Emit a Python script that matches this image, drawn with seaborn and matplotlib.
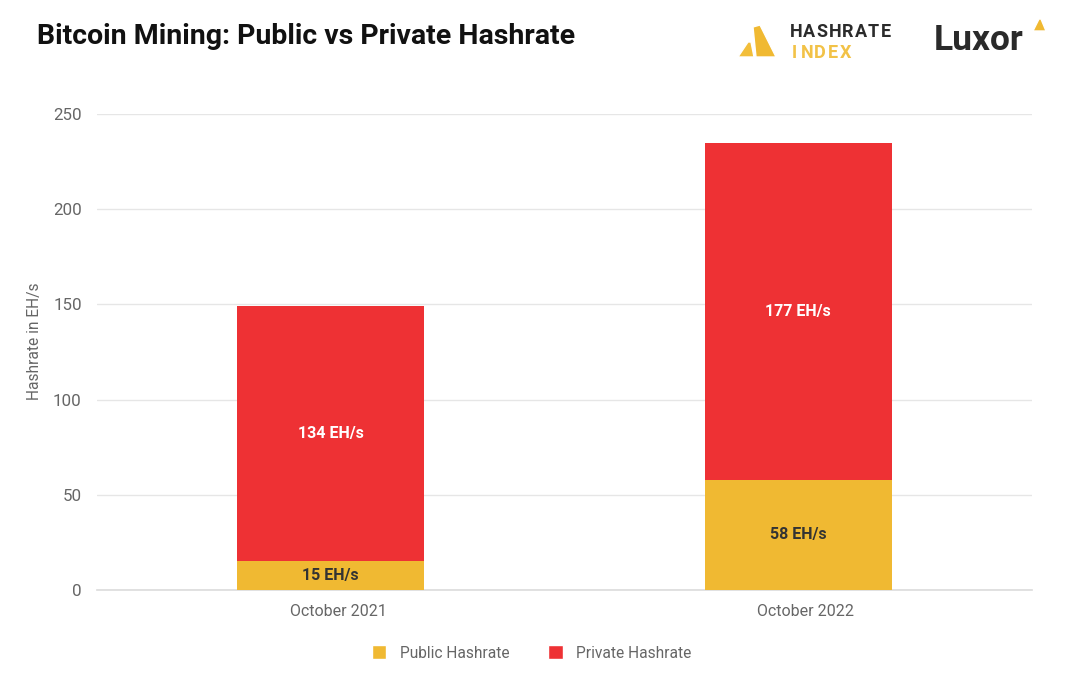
import pandas as pd
import matplotlib.pyplot as plt
import matplotlib.transforms as mtransforms
import seaborn as sns
from matplotlib.patches import Patch, Polygon

# ── Data ──────────────────────────────────────────────────────────────────
periods = ['October 2021', 'October 2022']
public_hashrate = [15, 58]
private_hashrate = [134, 177]

YELLOW = '#F0B932'
RED = '#EE3134'
GREY = '#666666'

df = pd.DataFrame({
    'period': periods,
    'public': public_hashrate,
    'private': private_hashrate,
})
df['total'] = df['public'] + df['private']

sns.set_theme(style='white')
plt.rcParams['font.family'] = ['Roboto', 'DejaVu Sans']

fig = plt.figure(figsize=(10.8, 6.75), dpi=100)
ax = fig.add_axes([97 / 1080, 1 - 590 / 675, 935 / 1080, 476 / 675])

# stacked bars: total in red, public drawn over it in yellow
sns.barplot(data=df, x='period', y='total', color=RED, width=0.4,
            saturation=1, linewidth=0, ax=ax, zorder=2)
sns.barplot(data=df, x='period', y='public', color=YELLOW, width=0.4,
            saturation=1, linewidth=0, ax=ax, zorder=3)

for i, row in df.iterrows():
    ax.text(i, row['public'] / 2, f"{row['public']} EH/s", ha='center',
            va='center', fontsize=11.5, fontweight='bold', color='#333333',
            zorder=4)
    ax.text(i, row['public'] + row['private'] / 2, f"{row['private']} EH/s",
            ha='center', va='center', fontsize=11.5, fontweight='bold',
            color='white', zorder=4)

ax.set_ylim(0, 250)
ax.set_yticks(range(0, 251, 50))
ax.set_xlim(-0.5, 1.5)
ax.yaxis.grid(True, color='#E6E6E6', linewidth=1)
ax.set_axisbelow(True)
for side in ['top', 'right', 'left']:
    ax.spines[side].set_visible(False)
ax.spines['bottom'].set_color('#DDDDDD')
ax.spines['bottom'].set_zorder(1)

ax.set_xlabel('')
ax.set_ylabel('Hashrate in EH/s', fontsize=11.2, color=GREY, labelpad=8)
ax.yaxis.label.set_y((590 - 341) / 476)
ax.tick_params(axis='y', length=0, labelsize=12.2, labelcolor=GREY, pad=11)
ax.tick_params(axis='x', which='major', length=0, labelsize=11.5,
               labelcolor=GREY, pad=10)
ax.set_xticks([-0.5, 0.5, 1.5], minor=True)
ax.tick_params(axis='x', which='minor', length=6, color='#DDDDDD', width=1)
shift = mtransforms.ScaledTranslation(7.5 / 100, 0, fig.dpi_scale_trans)
for lab in ax.get_xticklabels():
    lab.set_transform(lab.get_transform() + shift)

handles = [Patch(facecolor=YELLOW, label='Public Hashrate'),
           Patch(facecolor=RED, label='Private Hashrate')]
fig.legend(handles=handles, loc='center',
           bbox_to_anchor=(531.5 / 1080, 1 - 653 / 675),
           ncol=2, frameon=False, fontsize=11.2, handlelength=0.95,
           handleheight=0.95, handletextpad=0.85, columnspacing=2.5,
           labelcolor=GREY)

# ── Title and logos ───────────────────────────────────────────────────────
fig.text(37 / 1080, 1 - 36 / 675, 'Bitcoin Mining: Public vs Private Hashrate',
         fontsize=20.5, fontweight='bold', color='#111111', va='center')

def to_fig(pts):
    return [(x / 1080, 1 - y / 675) for x, y in pts]

fig.patches.append(Polygon(to_fig([(738, 57), (748, 42), (751, 42), (754, 57)]),
                           closed=True, facecolor='#F2BE3A',
                           transform=fig.transFigure))
fig.patches.append(Polygon(to_fig([(753, 27), (760, 25), (776, 57), (756, 57)]),
                           closed=True, facecolor='#F0B932',
                           transform=fig.transFigure))

for k, ch in enumerate('HASHRATE'):
    fig.text((796 + k * 12.9) / 1080, 1 - 32 / 675, ch, fontsize=13,
             fontweight='bold', color='#2B2B2B', ha='center', va='center')
for k, ch in enumerate('INDEX'):
    fig.text((794 + k * 12.9) / 1080, 1 - 52.5 / 675, ch, fontsize=13,
             fontweight='bold', color='#F2C247', ha='center', va='center')

fig.text(934 / 1080, 1 - 41 / 675, 'Luxor', fontsize=25.5, fontweight='bold',
         color='#2A2A2A', va='center')
fig.patches.append(Polygon(to_fig([(1033, 31), (1039, 19), (1041, 19), (1046, 31)]),
                           closed=True, facecolor='#F0B932',
                           transform=fig.transFigure))

fig.savefig('out.png', dpi=100)
